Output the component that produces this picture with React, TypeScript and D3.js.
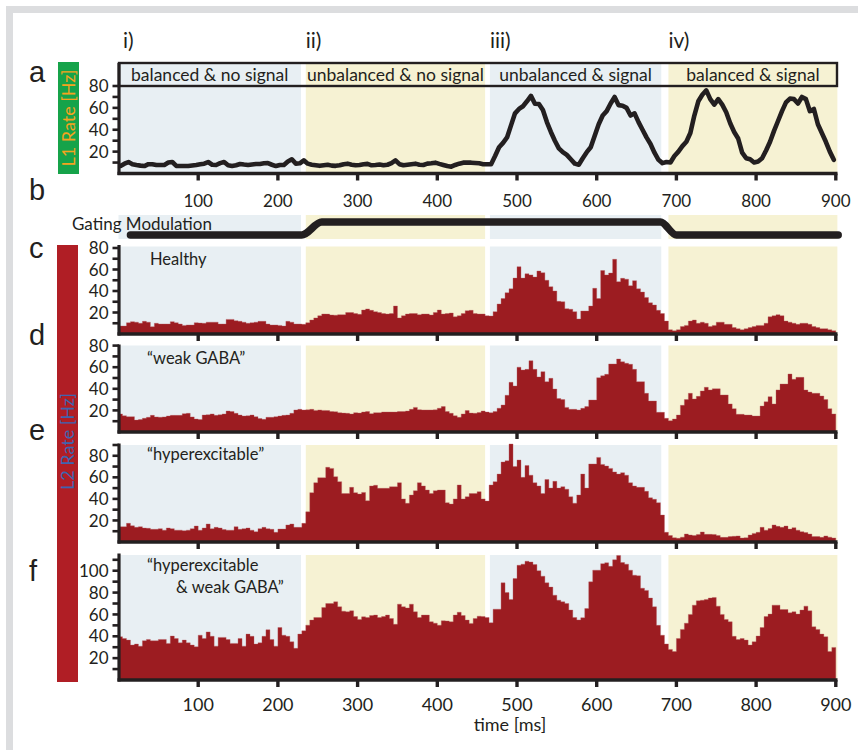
import React from "react";
import * as d3 from "d3";

// ---------------- data ----------------
const timeTicks = [100, 200, 300, 400, 500, 600, 700, 800, 900];
const binWidth = 5;
const phaseRomans = ["i)", "ii)", "iii)", "iv)"];
const phaseTitles = ["balanced & no signal", "unbalanced & no signal", "unbalanced & signal", "balanced & signal"];
const phaseStart = [0, 235, 466, 690];
const phaseEnd = [229, 460, 681, 902];
const gatingTimes = [15, 230, 255, 680, 700, 903];
const gatingLevels = [0, 0, 1, 1, 0, 0];
const panelLetters = ["a", "b", "c", "d", "e", "f"];
const conditionLabels = [["Healthy"], ["\u201Cweak GABA\u201D"], ["\u201Chyperexcitable\u201D"], ["\u201Chyperexcitable", "& weak GABA\u201D"]];

const l1Rate = [
  6.9, 9, 10.5, 8.5, 7.8, 7.2, 6.8, 8.5, 8.5, 7.8, 7.8, 7.8, 10, 10.5, 7, 6.8, 6.8, 6.8, 7.3, 7.8,
  8.5, 9, 10.5, 8, 7.8, 9.5, 10.5, 7.5, 6.8, 7.5, 8.7, 8.2, 7.8, 8.3, 8.7, 8.7, 9.3, 9.5, 8, 6.8,
  7.8, 7.8, 11, 13, 9, 9.3, 12, 9,
  8, 7.5, 7, 7.5, 8, 7.2, 7, 7.5, 8.5, 9, 8, 7.5, 7.8, 8.5, 8.8, 7.5, 7.8, 8.2, 7.5, 8, 9.5, 12, 8.5, 7.5, 8, 8.5, 9, 8, 7.8, 9,
  9.3, 9.9, 8.8, 7.8, 6.8, 6.2, 7.8, 9, 9.9, 10, 9.9, 9.6, 9.3, 8.5, 8.5, 8.5,
  16, 24, 28, 33, 44, 55, 59, 61.5, 66, 71, 63.8, 63.6, 58, 47, 38, 30, 23, 19.5, 17, 13,
  9, 8, 14, 19.5, 24, 34.5, 45, 53, 57, 64, 70, 62.5, 62, 60, 53, 55, 47, 40, 33, 27, 19, 12.5,
  9.5, 10.5, 10, 16, 20, 25, 29, 37, 53, 66, 72, 76, 68, 63, 68, 63, 56, 46, 38, 32,
  19, 14, 13, 10, 11, 14, 21, 29, 39, 48, 57, 65, 68.5, 68, 64, 70, 68, 57, 59, 45, 37, 29, 20, 12.5,
];

const healthyRate = [
  7.4, 7.4, 10.5, 11.5, 11, 10, 11.8, 11, 6.8, 10, 9.3, 9.3, 9.3, 11.5, 10.5, 9.3, 8, 8.4, 8.4, 10.5,
  10.2, 10, 11, 11, 11, 9.3, 9.3, 13.6, 13.6, 12.4, 11.8, 11, 10, 10.5, 11, 11.8, 11.8, 9.3, 8.4, 8.4,
  8, 7.4, 11.8, 11, 9.3, 9.3,
  9, 10.5, 13, 15, 17, 18.6, 18.5, 17.7, 17.5, 18, 18, 20, 20, 19, 18.3, 22.3, 23.3, 22, 20.8, 20,
  19, 18.6, 19, 26, 15, 17, 18.6, 19, 19, 18, 18.6, 18.6, 17.7, 20, 22.3, 18.6, 19, 19.5, 16, 17,
  19, 21.7, 22, 19, 18.6,
  18.6, 17, 16.7, 20.8, 27.9, 33, 38.4, 42, 52, 62.6, 52, 56, 55, 53, 58.6, 57, 50, 44, 40, 30.4,
  30, 23.6, 23, 20.8, 14, 21.4, 21.4, 26, 42.5, 33, 59, 55, 56.7, 69.5, 48.7, 51.8, 51, 45, 49.6, 42,
  39, 34, 29, 27, 22,
  19, 12, 4, 3, 4, 7, 8, 12, 13, 10, 11, 10, 7, 8, 11, 11, 9, 9, 6, 5,
  4, 5, 6, 7, 8, 8, 10, 16, 17, 18, 17, 12, 11, 10, 9, 10, 10, 9, 7, 6, 5, 5, 4, 3,
];

const weakGabaRate = [
  16.7, 15, 14.2, 14.2, 11, 11.5, 12.7, 13.6, 15.4, 14, 13.6, 14, 14.8, 15.4, 15.4, 15.4, 17, 17.3, 14, 12,
  11.5, 15.7, 16, 16.7, 15.4, 16, 16.7, 19.4, 19, 17.3, 15.7, 14.8, 15, 15.7, 14.2, 12.5, 11.7, 13.6, 13.6, 14.2,
  14.8, 15.4, 15.7, 17.3, 20.4, 21,
  20.4, 20.5, 21, 20, 20.4, 20, 19.8, 19, 18.8, 17.9, 17.5, 17.3, 16.7, 17.9, 17.5, 18.5, 19, 17, 17.9, 17.9,
  18.5, 18.5, 18.5, 18.5, 19, 19, 19.4, 21, 22.8, 20.7, 20.4, 20.4,
  20.4, 20.5, 22, 23.5, 19, 17.3, 15, 13.6, 16.7, 19.8, 17.5, 17.3, 18,
  19.4, 18.5, 17.9, 19, 22, 25, 34, 46, 42.6, 60, 57.4, 58, 66, 58, 51, 55.9, 46.6, 49.7, 39.8, 31,
  30, 22.8, 21, 21, 20.4, 21.9, 23.5, 29.6, 29.6, 50.3, 52, 53.4, 63, 63, 67.6, 65, 63.6, 62.7, 58, 46.6,
  46.6, 35.8, 28.7, 28.7, 18.2,
  18.2, 12.7, 10.5, 12, 15.7, 24.7, 30, 35.8, 30.6, 33, 38, 41.4, 39, 40, 40, 34.3, 34.3, 26, 21.6, 16.4,
  16.4, 15.7, 15.7, 14.8, 14.8, 24, 28, 32.7, 26, 39, 44.4, 44.4, 53.7, 48.8, 50.6, 50.6, 38.9, 37, 35.8, 35.8,
  33.3, 30, 21.6, 16.7,
];

const hyperRate = [
  14.2, 14.2, 17.3, 15, 13.6, 14.2, 13, 12.7, 11.8, 11.8, 12.4, 11, 13, 12.4, 11, 11, 10.5, 11, 12.4, 14.8,
  11, 13, 16.7, 12.4, 13.6, 13, 11.5, 11, 11, 14.2, 11.8, 12.4, 13, 11, 9.6, 12.4, 13.6, 12.4, 11.8, 9,
  12, 12, 15.8, 16.7, 13.6, 13.6,
  17.3, 28, 45.8, 55, 59.7, 59.7, 69.3, 68.3, 60.6, 56, 45, 45, 50.7, 45.8, 44.5, 46, 38.3, 52, 52.6, 49.8,
  49.8, 49.8, 51.3, 51.3, 55, 40, 35.9, 43.6, 47.6, 55, 52, 48.2,
  45, 47.6, 48.2, 48.2, 36.5, 35.2, 40, 52.9, 40, 42, 45, 45, 46.7,
  40, 38, 52.9, 56, 63, 74.2, 75.4, 90.9, 70, 76, 60, 71, 62, 55, 52, 45, 58, 50, 56.3, 50,
  51.3, 49, 42, 36, 43.6, 63, 50, 72.4, 72.4, 78.5, 72, 70.5, 68.3, 65, 63, 64.3, 62, 55, 52, 50.7,
  50.7, 47, 41, 39.6, 36.5,
  25, 9, 6, 4, 3.4, 4.5, 7.4, 6.5, 6, 7, 9.3, 7.1, 7.1, 7, 6, 4.3, 4.3, 5, 5.3, 5.6,
  3.7, 4, 6.5, 8, 9, 13.6, 11, 12.5, 15.8, 14.5, 13.6, 14.8, 12, 13.3, 11, 9.6, 8.7, 7.4, 5, 5,
  4.3, 5.6, 4.5, 3.7,
];

const hyperWeakRate = [
  39.6, 38, 36.5, 32, 32.9, 31, 36, 37.1, 35.9, 35.9, 37.1, 37.1, 33.5, 40.2, 38, 34, 36.5, 34, 32, 30.4,
  41, 38, 44, 40, 31, 39, 39, 37, 33.5, 33.5, 38, 31, 42, 40, 32.9, 34, 40, 46, 37, 31,
  48, 41, 40, 35, 29, 42,
  45, 50.2, 54.8, 57.2, 57.2, 66.4, 70, 70, 71.5, 67, 63, 62.4, 63.3, 58, 55.4, 57.8, 57.2, 59, 59.4, 57.2,
  58, 59.4, 56.3, 51, 69.4, 67, 66, 69.4, 62.4, 57.2, 59.4, 59.4,
  53.3, 52, 50.2, 54.2, 54, 53.3, 59.4, 62, 59, 54.8, 51.8, 56.3, 58.4,
  58, 57.2, 52.4, 64.8, 64.8, 88.9, 80, 73.7, 92.8, 105, 106, 108.7, 108, 105.6, 100, 95, 88.9, 85, 77.6, 73,
  71.5, 70, 64, 57.2, 55, 57, 65.4, 89.8, 100.5, 100.5, 106.5, 107.2, 104, 110, 114, 107.5, 106, 100.5, 95.9, 95.3,
  84, 82, 75, 67, 50,
  41, 33, 28, 26, 38, 46.3, 52, 60, 68.5, 72.5, 73, 73.7, 75, 75.5, 67.6, 60, 55.4, 53.3, 40, 37,
  38, 36.5, 32, 35, 40.2, 48, 58, 60.3, 68.5, 68.5, 64.5, 64.5, 61.5, 62.4, 60.3, 64, 67.6, 63.3, 48.7, 46.3,
  42, 39.6, 26, 29.8,
];

// ---------------- styling ----------------
const BLUE = "#e8eff3";
const YEL = "#f6f2d3";
const RED = "#9c1c21";
const INK = "#231f20";
const FONT = "Lato, 'Open Sans', sans-serif";
const LETTER_FONT = "'Liberation Sans', Arial, sans-serif";

export default function App() {
  const x = d3.scaleLinear().domain([0, 900]).range([118.5, 835.8]);
  const yA = d3.scaleLinear().domain([0, 80]).range([173.5, 86]);
  const yG = d3.scaleLinear().domain([0, 1]).range([235, 222]);

  const panels = [
    { data: healthyRate, label: conditionLabels[0], lx: [150], ly: [265], y: d3.scaleLinear().domain([0, 80]).range([334, 248]), bgTop: 246.5, axisTop: 245, tickMax: 80 },
    { data: weakGabaRate, label: conditionLabels[1], lx: [147], ly: [364], y: d3.scaleLinear().domain([0, 80]).range([432, 345.6]), bgTop: 345.5, axisTop: 344.5, tickMax: 80 },
    { data: hyperRate, label: conditionLabels[2], lx: [147], ly: [460], y: d3.scaleLinear().domain([0, 90]).range([542, 445]), bgTop: 445, axisTop: 443.5, tickMax: 90 },
    { data: hyperWeakRate, label: conditionLabels[3], lx: [147, 176], ly: [571, 593], y: d3.scaleLinear().domain([0, 110]).range([680, 559.8]), bgTop: 555, axisTop: 553.5, tickMax: 110 },
  ];

  const backgrounds = (top: number, bottom: number, key: string) =>
    phaseStart.map((s, i) => (
      <rect key={key + i} x={x(s)} y={top} width={x(phaseEnd[i]) - x(s)} height={bottom - top} fill={i % 2 ? YEL : BLUE} />
    ));

  const yTicks = (y: d3.ScaleLinear<number, number>, max: number, key: string, axisTop: number) => {
    const vals = d3.range(10, max + 1, 10);
    return (
      <g key={key}>
        <line x1={119} x2={119} y1={axisTop} y2={y(0) + 1.5} stroke={INK} strokeWidth={3.2} />
        {vals.map((v) => (
          <line key={v} x1={112.5} x2={119} y1={y(v)} y2={y(v)} stroke={INK} strokeWidth={2.6} />
        ))}
        {vals.filter((v) => v % 20 === 0).map((v) => (
          <text key={"l" + v} x={108.5} y={y(v)} dy="0.36em" textAnchor="end" fontSize={17} fontFamily={FONT} fill={INK}>
            {v}
          </text>
        ))}
      </g>
    );
  };

  const xAxis = (y0: number, key: string) => (
    <g key={key}>
      <line x1={117.5} x2={837.5} y1={y0} y2={y0} stroke={INK} strokeWidth={3.6} />
      {timeTicks.map((t) => (
        <line key={t} x1={x(t)} x2={x(t)} y1={y0} y2={y0 + 7} stroke={INK} strokeWidth={3.4} />
      ))}
    </g>
  );

  const hist = (data: number[], y: d3.ScaleLinear<number, number>) => {
    const pts: [number, number][] = data.map((v, i) => [i * binWidth, v]);
    pts.push([data.length * binWidth, data[data.length - 1]]);
    const area = d3
      .area<[number, number]>()
      .x((d) => x(d[0]))
      .y0(y(0))
      .y1((d) => y(d[1]))
      .curve(d3.curveStepAfter);
    return <path d={area(pts) || ""} fill={RED} stroke="#b45a5e" strokeWidth={0.6} strokeOpacity={0.6} />;
  };

  const l1Line = d3
    .line<number>()
    .x((_, i) => x(i * binWidth + binWidth / 2))
    .y((d) => yA(d));

  const gLine = d3
    .line<number>()
    .x((_, i) => x(gatingTimes[i]))
    .y((d) => yG(d))
    .curve(d3.curveMonotoneX);

  const letterY = [81.5, 199.5, 258, 345, 440, 580.5];

  return (
    <svg width={858} height={750} style={{ position: "absolute", left: 0, top: 0, display: "block", background: "#fff" }}>
      {/* figure frame */}
      <rect x={6} y={6} width={852} height={7} fill="#dcdddf" />
      <rect x={6} y={6} width={7} height={744} fill="#dcdddf" />

      {/* panel letters */}
      {panelLetters.map((l, i) => (
        <text key={l} x={29} y={letterY[i]} fontSize={29} fontFamily={LETTER_FONT} fill={INK}>
          {l}
        </text>
      ))}

      {/* phase roman labels */}
      {phaseRomans.map((r, i) => (
        <text key={r} x={x(phaseStart[i]) + (i === 0 ? 4.5 : 0)} y={48} fontSize={21} fontFamily={FONT} fill={INK}>
          {r}
        </text>
      ))}

      {/* ---------- panel a ---------- */}
      {backgrounds(63, 173.5, "a")}
      {phaseTitles.map((t, i) => (
        <text key={t} x={(x(phaseStart[i]) + x(phaseEnd[i])) / 2} y={81} textAnchor="middle" fontSize={17.5} fontFamily={FONT} fill={INK}>
          {t}
        </text>
      ))}
      <rect x={119} y={63} width={718} height={yA(80) - 63} fill="none" stroke={INK} strokeWidth={2.4} />
      <path d={l1Line(l1Rate) || ""} fill="none" stroke={INK} strokeWidth={4.6} strokeLinejoin="round" strokeLinecap="round" />
      {yTicks(yA, 80, "ya", 63)}
      {xAxis(173.5, "xa")}
      {timeTicks.map((t) => (
        <text key={"ta" + t} x={x(t)} y={206.5} textAnchor="middle" fontSize={17} fontFamily={FONT} fill={INK}>
          {t}
        </text>
      ))}
      <rect x={58} y={62} width={21} height={112} fill="#16a34a" />
      <text transform="translate(74.5,118) rotate(-90)" textAnchor="middle" fontSize={18} fontFamily={FONT} fill="#f6a31e">
        L1 Rate [Hz]
      </text>

      {/* ---------- panel b ---------- */}
      {backgrounds(215, 239, "b")}
      <path d={gLine(gatingLevels) || ""} fill="none" stroke={INK} strokeWidth={7.5} strokeLinecap="round" strokeLinejoin="round" />
      <text x={72} y={230} fontSize={17} fontFamily={FONT} fill={INK}>
        Gating Modulation
      </text>

      {/* ---------- panels c-f ---------- */}
      <rect x={57} y={245} width={21} height={437} fill="#b01e25" />
      <text transform="translate(74,441.5) rotate(-90)" textAnchor="middle" fontSize={18} fontFamily={FONT} fill="#3d65b0">
        L2 Rate [Hz]
      </text>
      {panels.map((p, pi) => (
        <g key={"p" + pi}>
          {backgrounds(p.bgTop, p.y(0), "bg" + pi)}
          {p.label.map((s, li) => (
            <text key={s} x={p.lx[li]} y={p.ly[li]} fontSize={16.5} fontFamily={FONT} fill={INK}>
              {s}
            </text>
          ))}
          {hist(p.data, p.y)}
          {yTicks(p.y, p.tickMax, "yt" + pi, p.axisTop)}
          {xAxis(p.y(0), "xt" + pi)}
        </g>
      ))}
      {timeTicks.map((t) => (
        <text key={"tf" + t} x={x(t)} y={711} textAnchor="middle" fontSize={18} fontFamily={FONT} fill={INK}>
          {t}
        </text>
      ))}
      <text x={510} y={731} textAnchor="middle" fontSize={18} fontFamily={FONT} fill={INK}>
        time [ms]
      </text>
    </svg>
  );
}
